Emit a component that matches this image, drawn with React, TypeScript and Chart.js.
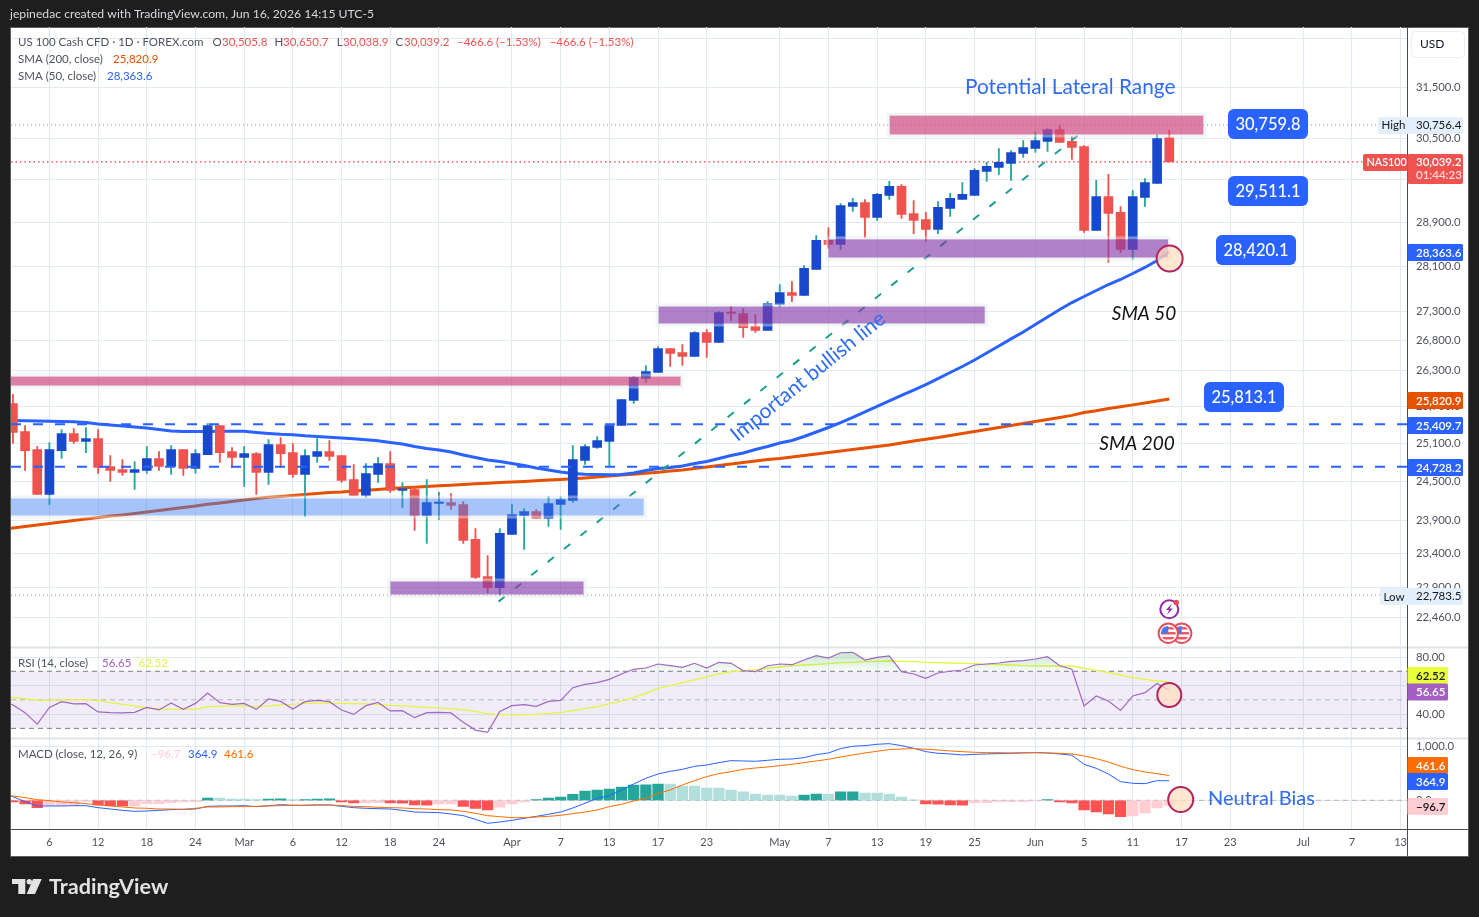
import React, { useEffect, useRef } from "react";
import { Chart, registerables } from "chart.js";

Chart.register(...registerables);

const opens = [25748,25291,25002,24296,24986,25259,25131,25179,24733,24686,24639,24670,24859,24733,25002,24702,24922,25388,24970,24875,24938,24639,25083,24954,24607,24891,24970,24907,24529,24280,24607,24780,24358,24373,23972,24156,24171,24141,23609,23056,22894,23684,23972,24033,23926,24141,24202,24828,25034,25131,25388,25797,26161,26262,26667,26599,26532,26941,26770,27287,27269,27044,26975,27426,27637,27584,28047,28571,28498,29197,29272,28993,29403,29573,29067,28956,28771,29160,29328,29403,29857,29934,30010,30201,30298,30434,30667,30434,30337,28753,29384,29086,28406,29365,29629,30505.8];
const highs = [25897,25388,25051,25115,25323,25340,25356,25323,24907,24843,24812,25051,24970,25067,25002,25002,25421,25388,25034,25051,24954,25163,25195,25099,25002,25179,25147,24907,24765,24780,24875,24970,24482,24420,24529,24327,24311,24187,23774,23368,23774,24141,24079,24064,24264,24264,25067,25083,25211,25388,25814,26194,26380,26701,26667,26736,26958,26992,27304,27391,27356,27252,27478,27779,27832,28118,28662,28808,29253,29347,29328,29441,29667,29610,29309,29086,29290,29441,29648,29914,30029,30298,30259,30453,30628,30686,30756.4,30531,30356,29686,29800,29197,29497,29723,30570,30650.7];
const lows = [25099,24670,24296,24141,24859,25099,24954,24623,24498,24591,24373,24623,24670,24607,24591,24623,24922,24796,24717,24420,24296,24451,24717,24560,23957,24796,24828,24482,24280,24249,24482,24327,24095,23744,23548,23911,24064,23548,23026,22821,22783.5,23684,23457,23926,23804,23759,24171,24765,25018,24733,25388,25748,26093,26262,26363,26380,26532,26515,26770,27148,26855,26941,26975,27391,27478,27584,28047,28425,28406,29104,28625,28938,29328,28975,28696,28553,28696,29012,29328,29403,29667,29800,29686,30125,30220,30240,30414,30087,28716,28753,28172,28352,28226,29197,29629,30038.9];
const closes = [25275,24986,24296,25002,25259,25131,25179,24717,24670,24639,24686,24859,24733,25002,24702,24938,25388,24954,24875,24938,24639,25083,24938,24607,24907,24970,24891,24513,24280,24623,24780,24358,24373,23972,24171,24171,24125,23593,23041,22894,23699,23987,24033,23926,24156,24218,24843,25051,25147,25388,25814,26177,26279,26667,26582,26532,26941,26770,27287,27269,27026,26975,27443,27637,27584,28065,28571,28498,29216,29272,28993,29422,29573,29049,28938,28771,29179,29347,29422,29876,29953,30029,30220,30317,30453,30667,30414,30317,28753,29384,29067,28406,29384,29648,30492,30039.2];

const sma50 = [25470,25467,25462,25457,25454,25449,25437,25413,25396,25380,25364,25348,25323,25299,25291,25291,25291,25294,25297,25294,25275,25259,25246,25240,25223,25211,25198,25187,25174,25158,25144,25115,25091,25051,25018,24994,24962,24915,24875,24836,24812,24780,24749,24709,24678,24646,24623,24610,24607,24602,24607,24631,24670,24702,24717,24741,24780,24812,24859,24907,24946,25002,25051,25107,25147,25211,25283,25356,25437,25520,25611,25700,25789,25880,25970,26060,26160,26262,26363,26472,26591,26710,26831,26950,27078,27208,27339,27461,27567,27673,27779,27868,27975,28083,28208,28363.6];
const sma200 = [23781,23804,23827,23850,23873,23896,23919,23942,23965,23980,24003,24026,24049,24072,24095,24117,24143,24163,24187,24210,24233,24252,24264,24280,24296,24311,24327,24335,24350,24361,24373,24389,24400,24409,24420,24431,24440,24451,24462,24471,24482,24490,24498,24510,24521,24529,24540,24552,24568,24583,24599,24611,24627,24643,24662,24678,24702,24725,24749,24772,24796,24820,24843,24859,24883,24907,24930,24954,24978,25002,25026,25051,25075,25107,25139,25168,25195,25227,25259,25291,25323,25356,25388,25421,25454,25487,25520,25553,25600,25630,25665,25695,25725,25755,25790,25820.9];

const rsi = [46.4,41.0,33.0,44.7,48.7,47.1,47.3,41.5,41.0,40.8,41.2,44.7,42.9,47.8,43.3,47.5,54.8,48.0,46.8,47.5,43.3,50.6,48.9,43.6,48.7,49.6,48.7,42.9,39.8,45.9,48.2,42.2,42.4,37.5,41.0,41.2,40.8,34.2,28.8,27.2,41.9,45.9,46.6,45.4,48.9,49.6,58.5,60.8,62.0,64.3,68.1,71.4,72.3,75.1,73.9,72.8,75.6,72.3,76.3,75.6,70.4,69.7,73.9,75.1,74.6,77.9,80.9,79.3,83.0,83.3,77.9,79.8,80.7,69.7,68.1,65.1,68.8,70.0,70.9,74.4,75.1,75.8,77.0,77.4,78.6,80.2,73.9,71.4,45.7,52.7,49.2,42.6,52.7,55.0,61.5,56.65];
const rsiMa = [51.7,50.8,49.6,49.8,49.9,50.0,50.1,49.4,48.0,46.8,45.7,44.3,43.8,43.3,43.3,43.3,45.2,45.4,45.7,45.7,45.2,45.7,46.4,46.8,47.5,47.5,47.8,47.5,47.3,47.1,46.8,46.1,45.7,45.2,44.7,44.3,43.8,42.9,41.9,40.3,39.6,39.6,39.6,39.8,40.5,41.0,42.4,43.8,45.2,47.1,49.2,51.5,54.5,58.0,59.9,62.0,63.9,66.0,68.1,69.7,70.4,70.9,72.1,73.0,73.9,74.4,74.9,75.3,76.0,76.3,76.7,77.0,77.2,77.0,76.7,76.3,76.0,75.8,75.6,75.3,74.9,74.6,74.4,73.9,73.7,73.7,73.7,73.7,72.1,70.7,69.1,67.4,65.5,64.3,63.2,62.52];

const macd = [68,-25,-106,-106,-106,-100,-100,-137,-162,-187,-205,-199,-187,-174,-168,-162,-112,-106,-106,-100,-118,-100,-81,-93,-93,-87,-87,-112,-137,-149,-156,-162,-187,-218,-224,-230,-255,-286,-355,-429,-404,-373,-336,-299,-261,-218,-143,-56,37,87,193,305,411,491,541,578,634,659,703,740,734,728,746,765,771,796,852,883,964,1008,1020,1045,1057,1020,970,908,877,865,846,858,865,871,877,883,889,883,865,840,672,597,491,348,317,311,367,364.9];
const macdSignal = [81,50,12,-6,-31,-44,-62,-87,-106,-124,-143,-149,-162,-162,-168,-149,-124,-124,-118,-118,-112,-106,-100,-93,-93,-87,-87,-100,-112,-118,-131,-137,-143,-156,-162,-174,-180,-205,-243,-286,-305,-323,-323,-311,-299,-280,-249,-218,-180,-118,-75,-12,37,131,193,286,367,442,498,535,579,603,622,647,672,703,734,765,809,846,883,915,946,958,964,952,939,921,908,896,889,889,883,889,889,883,877,865,827,777,715,634,572,529,497,461.6];
const macdHist = [-31,-68,-137,-93,-93,-87,-19,-87,-100,-106,-106,-62,-62,-44,-31,-25,44,44,25,25,12,25,27,12,14,25,27,-31,-50,-50,-44,-50,-52,-87,-89,-68,-66,-112,-149,-180,-130,-68,-31,12,44,62,112,174,193,211,249,286,290,305,305,267,267,230,230,193,156,118,100,100,81,100,118,118,156,160,137,137,118,62,6,-68,-70,-87,-89,-44,-42,-25,-25,-25,-12,12,-31,-50,-180,-218,-255,-305,-292,-236,-143,-96.7];

// Each line's value one bar before the first candle, off the left edge of the chart.
const sma50Before = 25472;
const sma200Before = 23758;
const rsiBefore = 50;
const rsiMaBefore = 52;
const macdBefore = 110;
const signalBefore = 95;

const xTickIndex = [3,7,11,15,19,23,27,31,35,41,45,49,53,57,63,67,71,75,79,84,88,92,96,100,106,110,114];
const xTickLabels = ["6","12","18","24","Mar","6","12","18","24","Apr","7","13","17","23","May","7","13","19","25","Jun","5","11","17","23","Jul","7","13"];
const priceTicks = [32500,31500,30500,29700,28900,28100,27300,26800,26300,25700,25100,24500,23900,23400,22900,22460];
const rsiTicks = [80,60,40];
const macdTicks = [1000,0];

const zoneFrom = [72.03,67.0,53.05,-0.3,-0.3,31.02];
const zoneTo = [97.8,94.9,79.84,54.85,51.82,46.88];
const zoneHigh = [30940,28590,27391,26194,24233,22983];
const zoneLow = [30570,28261,27096,26044,23972,22793];
const zoneColor = ["rgba(205,72,130,0.7)","rgba(134,60,170,0.65)","rgba(134,60,170,0.65)","rgba(205,72,130,0.7)","rgba(60,125,245,0.46)","rgba(134,60,170,0.65)"];

const HIGH = 30756.4, LOW = 22783.5, LAST = 30039.2;
const LEVEL_A = 25409.7, LEVEL_B = 24728.2;
const trendX = [39.9, 88.3];
const trendY = [22690, 30706];
const X_MIN = -0.156, X_MAX = 114.53;

const FONT = "Lato, 'Noto Sans', sans-serif";
const GRID = "#e1eaf1";
const BLUE = "#2962ff";
const fmt1 = (v: number) => v.toLocaleString("en-US", { minimumFractionDigits: 1, maximumFractionDigits: 1 });

const idx = opens.map((_, i) => i);
const isUp = closes.map((c, i) => c >= opens[i]);
const hLine = (v: number) => [{ x: X_MIN, y: v }, { x: X_MAX, y: v }];
const series = (a: number[]) => a.map((y, i) => ({ x: i, y }));
const withBefore = (before: number, a: number[]) => [{ x: -1, y: before }, ...series(a)];
const histColor = macdHist.map((v, i) => {
  const p = i ? macdHist[i - 1] : 0;
  if (v >= 0) return v > p ? "#26a69a" : "#b2dfdb";
  return v >= p ? "#ffcdd2" : "#ff5252";
});

function text(c: CanvasRenderingContext2D, s: string, x: number, y: number, color: string, font: string, align: CanvasTextAlign = "left") {
  c.fillStyle = color;
  c.font = font;
  c.textAlign = align;
  c.textBaseline = "middle";
  c.fillText(s, x, y);
}
function rr(c: CanvasRenderingContext2D, x0: number, y0: number, x1: number, y1: number, r: number, color: string) {
  c.fillStyle = color;
  c.beginPath();
  c.roundRect(x0, y0, x1 - x0, y1 - y0, r);
  c.fill();
}

const paperPlugin = {
  id: "paper",
  beforeDraw(chart: any) {
    const c = chart.ctx as CanvasRenderingContext2D;
    c.save();
    c.fillStyle = "#1e1e1e";
    c.fillRect(0, 0, 1479, 917);
    c.fillStyle = "#ffffff";
    c.fillRect(10, 27, 1458.5, 829.5);
    c.strokeStyle = "#5d5d5d";
    c.lineWidth = 1;
    c.strokeRect(10.5, 27.5, 1458, 829);
    c.restore();
  },
};

const zonesPlugin = {
  id: "zones",
  afterDatasetsDraw(chart: any) {
    const c = chart.ctx as CanvasRenderingContext2D;
    const { x, yPrice, yRsi, yMacd } = chart.scales;
    const a = chart.chartArea;
    c.save();
    c.beginPath();
    c.rect(a.left, yPrice.top, a.right - a.left, yPrice.bottom - yPrice.top);
    c.clip();
    zoneFrom.forEach((_, i) => {
      const x0 = x.getPixelForValue(zoneFrom[i]);
      const x1 = x.getPixelForValue(zoneTo[i]);
      const y0 = yPrice.getPixelForValue(zoneHigh[i]);
      const y1 = yPrice.getPixelForValue(zoneLow[i]);
      c.strokeStyle = "rgba(225,232,232,0.45)";
      c.lineWidth = 3;
      c.strokeRect(x0 - 1.5, y0 - 1.5, x1 - x0 + 3, y1 - y0 + 3);
      c.fillStyle = zoneColor[i];
      c.fillRect(x0, y0, x1 - x0, y1 - y0);
    });
    c.restore();
    const ring = (px: number, py: number, r: number) => {
      c.beginPath();
      c.arc(px, py, r, 0, Math.PI * 2);
      c.fillStyle = "rgba(255,222,190,0.72)";
      c.fill();
      c.strokeStyle = "#b3235f";
      c.lineWidth = 2;
      c.stroke();
    };
    ring(x.getPixelForValue(95.03), yPrice.getPixelForValue(28242), 13);
    ring(x.getPixelForValue(95.0), yRsi.getPixelForValue(53.4), 12);
    ring(x.getPixelForValue(95.94), yMacd.getPixelForValue(15), 12.5);
  },
};

const overlayPlugin = {
  id: "overlay",
  afterDraw(chart: any) {
    const c = chart.ctx as CanvasRenderingContext2D;
    c.save();
    c.strokeStyle = "#dfe3e8";
    c.lineWidth = 2;
    c.beginPath();
    c.moveTo(11, 647.5); c.lineTo(1468, 647.5);
    c.moveTo(11, 738.5); c.lineTo(1468, 738.5);
    c.stroke();
    c.strokeStyle = "#4b4d55";
    c.lineWidth = 1;
    c.beginPath();
    c.moveTo(1407.5, 27); c.lineTo(1407.5, 856);
    c.moveTo(11, 829.5); c.lineTo(1468, 829.5);
    c.stroke();

    const F = `11.5px ${FONT}`;
    const FB = `600 11.5px ${FONT}`;
    text(c, "jepinedac created with TradingView.com, Jun 16, 2026 14:15 UTC-5", 10, 14.5, "#d6d8de", `12.2px ${FONT}`);
    c.fillStyle = "#e3e3e3";
    c.fillRect(12, 879, 13.3, 5);
    c.fillRect(18.3, 884, 7, 10);
    c.beginPath(); c.arc(29.3, 881.7, 2.7, 0, Math.PI * 2); c.fill();
    c.beginPath(); c.moveTo(33, 879); c.lineTo(41.7, 879); c.lineTo(35, 894); c.lineTo(26.7, 894); c.closePath(); c.fill();
    text(c, "TradingView", 49, 887.5, "#e3e3e3", `700 21.6px ${FONT}`);

    const grey = "#4f525c", red = "#ef5350";
    text(c, "US 100 Cash CFD · 1D · FOREX.com", 18, 42, grey, F);
    [["O", 212.5, "30,505.8", 222], ["H", 274.4, "30,650.7", 283], ["L", 336.7, "30,038.9", 343], ["C", 395.6, "30,039.2", 404]].forEach((r: any) => {
      text(c, r[0], r[1], 42, grey, F);
      text(c, r[2], r[3], 42, red, F);
    });
    text(c, "−466.6 (−1.53%)", 457, 42, red, F);
    text(c, "−466.6 (−1.53%)", 549.7, 42, red, F);
    text(c, "SMA (200, close)", 18, 59, grey, F);
    text(c, "25,820.9", 113, 59, "#e65100", F);
    text(c, "SMA (50, close)", 18, 76, grey, F);
    text(c, "28,363.6", 107, 76, BLUE, F);
    text(c, "RSI (14, close)", 18, 663, grey, F);
    text(c, "56.65", 102, 663, "#9c5fbd", F);
    text(c, "62.52", 138.5, 663, "#e3f23a", F);
    text(c, "MACD (close, 12, 26, 9)", 18, 754, grey, F);
    text(c, "−96.7", 151, 754, "#ffcdd2", F);
    text(c, "364.9", 188, 754, BLUE, F);
    text(c, "461.6", 224, 754, "#ff6d00", F);

    text(c, "Potential Lateral Range", 965, 87.5, "#2f6cf0", `20.8px ${FONT}`);
    text(c, "Neutral Bias", 1208, 798.5, "#2f6cf0", `20px ${FONT}`);
    text(c, "SMA 50", 1144, 313.5, "#111", `italic 19px ${FONT}`, "center");
    text(c, "SMA 200", 1137, 443.5, "#111", `italic 19px ${FONT}`, "center");
    c.save();
    c.translate(808, 376.5);
    c.rotate((-39 * Math.PI) / 180);
    text(c, "Important bullish line", 0, 0, "#2f6cf0", `20.8px ${FONT}`, "center");
    c.restore();

    [[1228, 109, "30,759.8"], [1228, 176, "29,511.1"], [1216, 235, "28,420.1"], [1204, 382, "25,813.1"]].forEach((b: any) => {
      rr(c, b[0], b[1], b[0] + 80, b[1] + 30, 6, BLUE);
      text(c, b[2], b[0] + 40, b[1] + 16, "#fff", `500 16.5px ${FONT}`, "center");
    });

    c.fillStyle = "#fff";
    c.strokeStyle = "#eceef2";
    c.lineWidth = 1;
    c.beginPath();
    c.roundRect(1411.5, 31.5, 53, 26, 4);
    c.fill();
    c.stroke();
    text(c, "USD", 1420, 44.5, "#131722", `12px ${FONT}`);

    const L = 1407.5, R = 1463, RS = 1448;
    rr(c, 1378, 117, R, 134, 2, "#e3effa");
    text(c, "High", 1381.5, 125.5, "#131722", F);
    text(c, "30,756.4", 1416, 125.5, "#131722", F);
    rr(c, 1363, 154, L, 171, 2, "#ef5350");
    text(c, "NAS100", 1366.5, 162.5, "#fff", `600 10.8px ${FONT}`);
    rr(c, L, 154, R, 184, 2, "#ef5350");
    text(c, "30,039.2", 1416, 162.5, "#fff", FB);
    text(c, "01:44:23", 1416, 175.5, "#ffd9d8", FB);
    const tag = (y: number, col: string, s: string, right = R, tc = "#fff") => {
      rr(c, L, y - 8.5, right, y + 8.5, 1.5, col);
      text(c, s, 1416, y + 0.5, tc, FB);
    };
    tag(252.5, BLUE, "28,363.6");
    tag(400.5, "#e65100", "25,820.9");
    tag(425.5, BLUE, "25,409.7");
    tag(467.5, BLUE, "24,728.2");
    rr(c, 1380, 588, R, 605, 2, "#e3effa");
    text(c, "Low", 1383.5, 597, "#131722", F);
    text(c, "22,783.5", 1416, 596.5, "#131722", F);
    tag(675.5, "#e8ff3a", "62.52", RS, "#131722");
    tag(692, "#a55fc4", "56.65", RS);
    tag(765.5, "#ff6d00", "461.6", RS);
    tag(781.5, BLUE, "364.9", RS);
    tag(806.5, "#ffcdd2", "−96.7", RS, "#131722");

    c.strokeStyle = "#8e2ba5";
    c.lineWidth = 2;
    c.beginPath(); c.arc(1169.3, 609.3, 9, 0, Math.PI * 2); c.stroke();
    c.fillStyle = "#8e2ba5";
    c.beginPath();
    c.moveTo(1172, 603.5); c.lineTo(1166, 610); c.lineTo(1169.2, 610); c.lineTo(1166.8, 615); c.lineTo(1172.8, 608.5); c.lineTo(1169.6, 608.5);
    c.closePath(); c.fill();
    c.fillStyle = "#ef4a50";
    c.beginPath(); c.arc(1176.3, 602.5, 2.7, 0, Math.PI * 2); c.fill();
    const flag = (x: number) => {
      c.save();
      c.beginPath(); c.arc(x, 633.3, 9.7, 0, Math.PI * 2);
      c.fillStyle = "#fff"; c.fill();
      c.strokeStyle = "#e0505e"; c.lineWidth = 2; c.stroke();
      c.beginPath(); c.arc(x, 633.3, 7.4, 0, Math.PI * 2); c.clip();
      c.fillStyle = "#ef5a64";
      c.fillRect(x - 8, 627, 16, 2.5);
      c.fillRect(x - 8, 632, 16, 2.5);
      c.fillRect(x - 8, 637, 16, 2.5);
      c.fillStyle = "#4a78e8";
      c.fillRect(x - 8, 625, 8, 8.5);
      c.restore();
    };
    flag(1181.7);
    flag(1168.3);
    c.restore();
  },
};

export default function App() {
  const ref = useRef<HTMLCanvasElement | null>(null);
  useEffect(() => {
    const el = ref.current as HTMLCanvasElement;
    const g = (el.getContext("2d") as CanvasRenderingContext2D).createLinearGradient(0, 652, 0, 673);
    g.addColorStop(0, "rgba(92,190,100,0.34)");
    g.addColorStop(1, "rgba(92,190,100,0.02)");
    const noPt = { pointRadius: 0, pointHitRadius: 0 };
    const chart = new Chart(el, {
      type: "line",
      data: {
        datasets: [
          { type: "bar", label: "wicks", xAxisID: "x", yAxisID: "yPrice", order: 11, grouped: false, barThickness: 1.2, data: idx.map((i) => ({ x: i, y: [lows[i], highs[i]] })), backgroundColor: idx.map((i) => (isUp[i] ? "#26a69a" : "#ef5350")) },
          { type: "bar", label: "candles", xAxisID: "x", yAxisID: "yPrice", order: 10, grouped: false, barThickness: 9, minBarLength: 1.5, data: idx.map((i) => ({ x: i, y: [opens[i], closes[i]] })), backgroundColor: idx.map((i) => (isUp[i] ? "#1848cc" : "#ef5350")) },
          { label: "SMA 50", xAxisID: "x", yAxisID: "yPrice", order: 12, data: withBefore(sma50Before, sma50), borderColor: BLUE, borderWidth: 3, ...noPt },
          { label: "SMA 200", xAxisID: "x", yAxisID: "yPrice", order: 13, data: withBefore(sma200Before, sma200), borderColor: "#e65100", borderWidth: 3, ...noPt },
          { label: "level a", xAxisID: "x", yAxisID: "yPrice", order: 3, data: hLine(LEVEL_A), borderColor: BLUE, borderWidth: 2, borderDash: [10, 12], ...noPt },
          { label: "level b", xAxisID: "x", yAxisID: "yPrice", order: 3, data: hLine(LEVEL_B), borderColor: BLUE, borderWidth: 2, borderDash: [10, 12], ...noPt },
          { label: "high", xAxisID: "x", yAxisID: "yPrice", order: 14, data: hLine(HIGH), borderColor: "#8b8e98", borderWidth: 1, borderDash: [1, 3], ...noPt },
          { label: "low", xAxisID: "x", yAxisID: "yPrice", order: 14, data: hLine(LOW), borderColor: "#8b8e98", borderWidth: 1, borderDash: [1, 3], ...noPt },
          { label: "last", xAxisID: "x", yAxisID: "yPrice", order: 14, data: hLine(LAST), borderColor: "#f23a38", borderWidth: 1.3, borderDash: [1.5, 3], ...noPt },
          { label: "trend", xAxisID: "x", yAxisID: "yPrice", order: 4, data: trendX.map((x, i) => ({ x, y: trendY[i] })), borderColor: "#1f9e8f", borderWidth: 2, borderDash: [8, 13], ...noPt },

          { label: "band", xAxisID: "x", yAxisID: "yRsi", order: 30, data: hLine(70), borderWidth: 0, backgroundColor: "rgba(126,87,194,0.11)", fill: { target: { value: 30 } }, ...noPt },
          { label: "r70", xAxisID: "x", yAxisID: "yRsi", order: 29, data: hLine(70), borderColor: "#787b86", borderWidth: 1, borderDash: [5, 4], ...noPt },
          { label: "r50", xAxisID: "x", yAxisID: "yRsi", order: 29, data: hLine(50), borderColor: "#b2b5be", borderWidth: 1, borderDash: [5, 4], ...noPt },
          { label: "r30", xAxisID: "x", yAxisID: "yRsi", order: 29, data: hLine(30), borderColor: "#787b86", borderWidth: 1, borderDash: [5, 4], ...noPt },
          { label: "RSI MA", xAxisID: "x", yAxisID: "yRsi", order: 28, data: withBefore(rsiMaBefore, rsiMa), borderColor: "#e7f53c", borderWidth: 1.3, ...noPt },
          { label: "RSI", xAxisID: "x", yAxisID: "yRsi", order: 27, data: withBefore(rsiBefore, rsi), borderColor: "#a266c4", borderWidth: 1.2, fill: { target: { value: 70 }, above: g, below: "rgba(0,0,0,0)" }, ...noPt },

          { label: "m0", xAxisID: "x", yAxisID: "yMacd", order: 25, data: hLine(0), borderColor: "#b2b5be", borderWidth: 1, borderDash: [5, 4], ...noPt },
          { type: "bar", label: "hist", xAxisID: "x", yAxisID: "yMacd", order: 24, grouped: false, barThickness: 10.6, data: series(macdHist), backgroundColor: histColor },
          { label: "MACD", xAxisID: "x", yAxisID: "yMacd", order: 23, data: withBefore(macdBefore, macd), borderColor: BLUE, borderWidth: 1, ...noPt },
          { label: "signal", xAxisID: "x", yAxisID: "yMacd", order: 22, data: withBefore(signalBefore, macdSignal), borderColor: "#ff6d00", borderWidth: 1, ...noPt },
        ] as any,
      },
      options: {
        responsive: false,
        animation: false,
        layout: { padding: { left: 11, right: 11, top: 27, bottom: 61 } },
        elements: { line: { tension: 0 } },
        plugins: { legend: { display: false }, tooltip: { enabled: false }, title: { display: false } },
        scales: {
          x: {
            type: "linear",
            min: X_MIN,
            max: X_MAX,
            offset: false,
            grid: { color: GRID, offset: false, drawTicks: false },
            border: { display: false },
            afterBuildTicks: (s: any) => { s.ticks = xTickIndex.map((value) => ({ value })); },
            afterFit: (s: any) => { s.height = 27; },
            ticks: {
              autoSkip: false,
              maxRotation: 0,
              padding: 7,
              color: "#4f525c",
              font: { family: FONT, size: 11 },
              callback: (v: any) => xTickLabels[xTickIndex.indexOf(v)] ?? "",
            },
          },
          yPrice: {
            type: "logarithmic",
            position: "right",
            stack: "panes",
            stackWeight: 620.5,
            weight: 1,
            min: 22035,
            max: 32740,
            grid: { color: GRID, drawTicks: false },
            border: { display: false },
            afterBuildTicks: (s: any) => { s.ticks = priceTicks.map((value) => ({ value })); },
            afterFit: (s: any) => { s.width = 61; },
            ticks: { autoSkip: false, padding: 9, color: "#4f525c", font: { family: FONT, size: 11.3 }, callback: (v: any) => fmt1(Number(v)) },
          },
          yRsi: {
            type: "linear",
            position: "right",
            stack: "panes",
            stackWeight: 91,
            weight: 2,
            min: 22.9,
            max: 86.66,
            grid: { color: GRID, drawTicks: false },
            border: { display: false },
            afterBuildTicks: (s: any) => { s.ticks = rsiTicks.map((value) => ({ value })); },
            afterFit: (s: any) => { s.width = 61; },
            ticks: { autoSkip: false, padding: 9, color: "#4f525c", font: { family: FONT, size: 11.3 }, callback: (v: any) => Number(v).toFixed(2) },
          },
          yMacd: {
            type: "linear",
            position: "right",
            stack: "panes",
            stackWeight: 90.5,
            weight: 3,
            min: -535,
            max: 1153,
            grid: { color: GRID, drawTicks: false },
            border: { display: false },
            afterBuildTicks: (s: any) => { s.ticks = macdTicks.map((value) => ({ value })); },
            afterFit: (s: any) => { s.width = 61; },
            ticks: { autoSkip: false, padding: 9, color: "#4f525c", font: { family: FONT, size: 11.3 }, callback: (v: any) => fmt1(Number(v)) },
          },
        },
      } as any,
      plugins: [paperPlugin, zonesPlugin, overlayPlugin],
    });
    return () => chart.destroy();
  }, []);
  return (
    <div style={{ position: "fixed", left: 0, top: 0, width: 1479, height: 917, background: "#1e1e1e" }}>
      <canvas ref={ref} width={1479} height={917} style={{ display: "block", width: 1479, height: 917 }} />
    </div>
  );
}
